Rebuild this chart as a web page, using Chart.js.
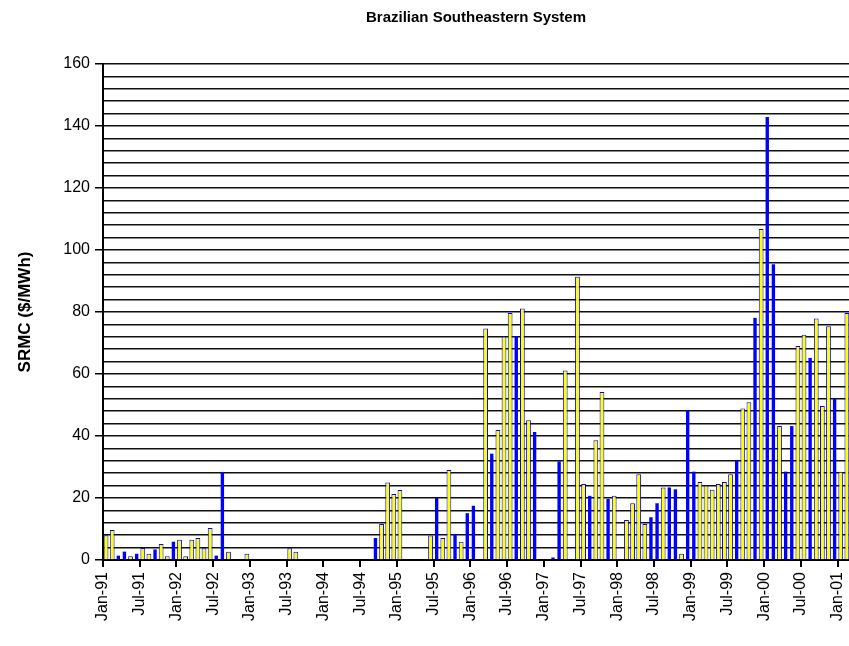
<!DOCTYPE html>
<html>
<head>
<meta charset="utf-8">
<script src="https://cdn.jsdelivr.net/npm/chart.js@4/dist/chart.umd.min.js"></script>
<style>
  body { margin: 0; background: #fff; }
  canvas { display: block; }
</style>
</head>
<body>
<canvas id="srmcChart" width="849" height="646"></canvas>
<script>
// monthly SRMC, Jan-91 .. Feb-01 (122 months); each month is in one of the two series
const tickLabels = ['Jan-91', 'Jul-91', 'Jan-92', 'Jul-92', 'Jan-93', 'Jul-93', 'Jan-94', 'Jul-94',
    'Jan-95', 'Jul-95', 'Jan-96', 'Jul-96', 'Jan-97', 'Jul-97', 'Jan-98', 'Jul-98',
    'Jan-99', 'Jul-99', 'Jan-00', 'Jul-00', 'Jan-01'];

const yellowValues = [
    8.0, 9.7, null, null, 1.2, null, 3.9, 2.0, null, 5.2, 1.2, null,            // 1991
    6.5, 1.2, 6.5, 7.1, 3.8, 10.3, null, null, 2.7, null, null, 2.0,            // 1992
    null, null, null, null, null, null, 3.8, 2.7, null, null, null, null,       // 1993
    null, null, null, null, null, null, null, null, null, 11.6, 25.0, 21.3,     // 1994
    22.6, null, null, null, null, 7.9, null, 7.1, 29.0, null, 5.9, null,        // 1995
    null, null, 74.7, null, 41.9, 72.1, 79.7, null, 81.1, 45.1, null, null,     // 1996
    null, null, null, 61.1, null, 91.4, 24.5, null, 38.6, 54.2, null, 20.7,     // 1997
    null, 12.9, 18.3, 27.7, 11.6, null, null, 23.4, null, null, 2.0, null,      // 1998
    null, 25.2, 24.0, 22.7, 24.5, 25.2, 27.7, null, 48.9, 50.9, null, 106.8,    // 1999
    null, null, 43.2, null, null, 69.0, 72.7, null, 77.9, 49.7, 75.4, null,     // 2000
    28.5, 79.7                                                                  // 2001
];

const blueValues = [
    null, null, 1.4, 2.7, null, 2.0, null, null, 3.4, null, null, 5.9,
    null, null, null, null, null, null, 1.4, 28.4, null, null, null, null,
    null, null, null, null, null, null, null, null, null, null, null, null,
    null, null, null, null, null, null, null, null, 7.1, null, null, null,
    null, null, null, null, null, null, 20.0, null, null, 8.4, null, 15.1,
    17.5, null, null, 34.3, null, null, null, 72.1, null, null, 41.3, null,
    null, 0.8, 31.8, null, null, null, null, 20.7, null, null, 19.7, null,
    null, null, null, null, null, 13.8, 18.3, null, 23.4, 22.8, null, 48.4,
    28.5, null, null, null, null, null, null, 32.2, null, null, 78.1, null,
    142.9, 95.4, null, 28.5, 43.2, null, null, 65.2, null, null, null, 52.0,
    null, null
];

const yTicks = { min: 0, max: 160, labelStep: 20, gridStep: 4 };

function toPoints(values) {
    return values.map((v, i) => ({ x: i + 0.5, y: v }));
}

const font = 'Liberation Sans, Arial, sans-serif';

new Chart(document.getElementById('srmcChart'), {
    type: 'bar',
    data: {
        datasets: [{
            label: 'yellow',
            data: toPoints(yellowValues),
            backgroundColor: '#ffff00',
            borderColor: '#0000ff',
            borderWidth: 1,
            barPercentage: 0.78,
            categoryPercentage: 1,
            grouped: false
        }, {
            label: 'blue',
            data: toPoints(blueValues),
            backgroundColor: '#0000ff',
            borderWidth: 0,
            barPercentage: 0.55,
            categoryPercentage: 1,
            grouped: false
        }]
    },
    options: {
        responsive: false,
        animation: false,
        layout: { padding: 0 },
        plugins: {
            legend: { display: false },
            tooltip: { enabled: false },
            title: {
                display: true,
                text: 'Brazilian Southeastern System',
                fullSize: false,
                color: '#000',
                font: { family: font, size: 15, weight: 'bold' },
                padding: { top: 9, bottom: 37 }
            }
        },
        scales: {
            x: {
                type: 'linear',
                offset: false,
                min: 0,
                max: 121.85,
                afterFit: function(scale) {
                    scale.height = 86;
                    scale.paddingLeft = 0;
                    scale.paddingRight = 0;
                },
                ticks: {
                    stepSize: 6,
                    includeBounds: false,
                    autoSkip: false,
                    maxTicksLimit: 100,
                    minRotation: 90,
                    maxRotation: 90,
                    padding: 5,
                    color: '#000',
                    font: { family: font, size: 16 },
                    callback: function(value) {
                        return tickLabels[value / 6];
                    }
                },
                grid: {
                    offset: false,
                    drawOnChartArea: false,
                    tickLength: 7,
                    color: '#000',
                    lineWidth: 2
                },
                border: { color: '#000', width: 2 }
            },
            y: {
                min: yTicks.min,
                max: yTicks.max,
                afterFit: function(scale) {
                    scale.width = 103;
                },
                ticks: {
                    stepSize: yTicks.gridStep,
                    autoSkip: false,
                    maxTicksLimit: 100,
                    padding: 5,
                    color: '#000',
                    font: { family: font, size: 16 },
                    callback: function(value) {
                        return value % yTicks.labelStep === 0 ? value : '';
                    }
                },
                grid: {
                    color: '#111',
                    lineWidth: 1.5,
                    tickLength: 8,
                    tickColor: function(ctx) {
                        return ctx.tick && ctx.tick.value % yTicks.labelStep === 0 ? '#000' : 'rgba(0,0,0,0)';
                    }
                },
                border: { color: '#000', width: 2 },
                title: {
                    display: true,
                    text: 'SRMC ($/MWh)',
                    color: '#000',
                    font: { family: font, size: 17, weight: 'bold' },
                    padding: { top: 15, bottom: 0 }
                }
            }
        }
    }
});
</script>
</body>
</html>
